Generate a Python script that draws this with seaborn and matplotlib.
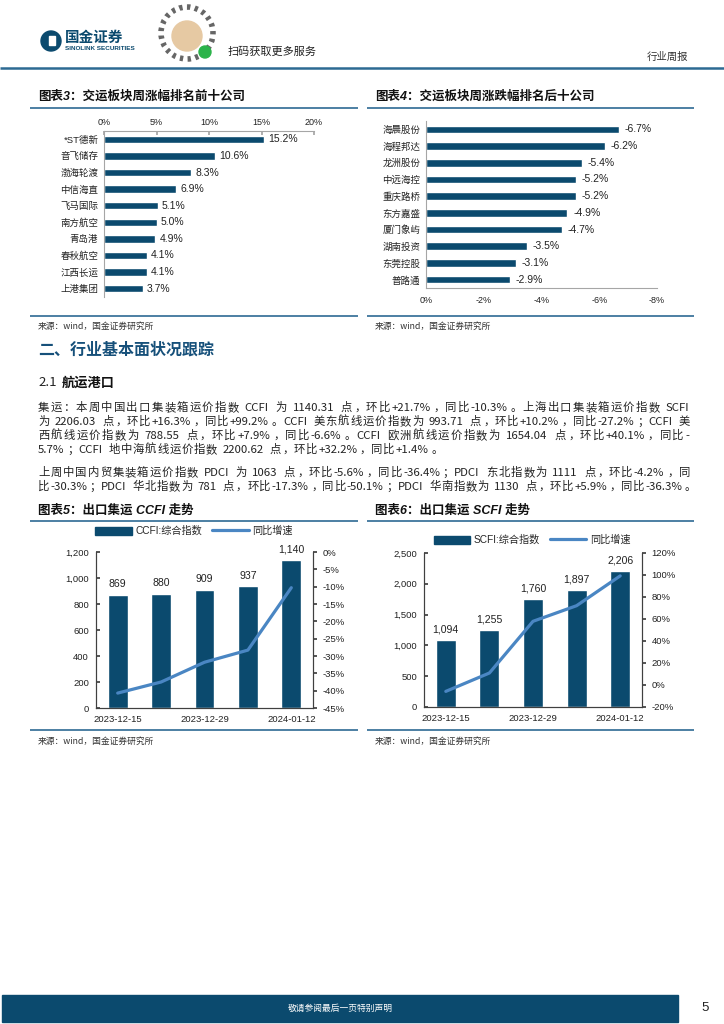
import re
import numpy as np
import pandas as pd
import matplotlib
matplotlib.use("Agg")
import matplotlib.pyplot as plt
import seaborn as sns
from matplotlib.lines import Line2D
from matplotlib.patches import Patch, Rectangle, Circle
from matplotlib.ticker import FuncFormatter

# ---------------- data ----------------
top_names = ["*ST德新", "音飞储存", "渤海轮渡", "中信海直", "飞马国际",
             "南方航空", "青岛港", "春秋航空", "江西长运", "上港集团"]
top_chg = [15.2, 10.6, 8.3, 6.9, 5.1, 5.0, 4.9, 4.1, 4.1, 3.7]

bot_names = ["海晨股份", "海程邦达", "龙洲股份", "中远海控", "重庆路桥",
             "东方嘉盛", "厦门象屿", "湖南投资", "东莞控股", "普路通"]
bot_chg = [-6.7, -6.2, -5.4, -5.2, -5.2, -4.9, -4.7, -3.5, -3.1, -2.9]

dates = ["2023-12-15", "2023-12-22", "2023-12-29", "2024-01-05", "2024-01-12"]
ccfi = [869, 880, 909, 937, 1140]
ccfi_yoy = [-40.7, -37.5, -31.8, -28.3, -10.3]
scfi = [1094, 1255, 1760, 1897, 2206]
scfi_yoy = [-5.8, 10.9, 57.9, 72.1, 99.2]

para1 = [
    "集运：本周中国出口集装箱运价指数 CCFI 为 1140.31 点，环比+21.7%，同比-10.3%。上海出口集装箱运价指数 SCFI",
    "为 2206.03 点，环比+16.3%，同比+99.2%。CCFI 美东航线运价指数为 993.71 点，环比+10.2%，同比-27.2%；CCFI 美",
    "西航线运价指数为 788.55 点，环比+7.9%，同比-6.6%。CCFI 欧洲航线运价指数为 1654.04 点，环比+40.1%，同比-",
    "5.7%；CCFI 地中海航线运价指数 2200.62 点，环比+32.2%，同比+1.4%。",
]
para2 = [
    "上周中国内贸集装箱运价指数 PDCI 为 1063 点，环比-5.6%，同比-36.4%；PDCI 东北指数为 1111 点，环比-4.2%，同",
    "比-30.3%；PDCI 华北指数为 781 点，环比-17.3%，同比-50.1%；PDCI 华南指数为 1130 点，环比+5.9%，同比-36.3%。",
]

# ---------------- style ----------------
sns.set_theme(style="white")
plt.rcParams['font.family'] = ['Liberation Sans', 'Noto Sans CJK SC']
plt.rcParams['axes.unicode_minus'] = False

BAR = '#0b4a6e'
LINE = '#4a86c3'
RULE = '#2d6a93'
HEAD = '#16507a'
GRAY = '#a6a6a6'
DARK = '#404040'
CJK = ['Noto Sans CJK SC', 'DejaVu Sans']

W, H = 724, 1024
fig = plt.figure(figsize=(7.24, 10.24), dpi=100)

bg = fig.add_axes([0, 0, 1, 1], zorder=-5)
bg.set_xlim(0, W)
bg.set_ylim(H, 0)
bg.axis('off')


def ax_at(x0, y0, x1, y1):
    return fig.add_axes([x0 / W, 1 - y1 / H, (x1 - x0) / W, (y1 - y0) / H])


def rule(x0, x1, y, color=RULE, lw=1.2):
    bg.plot([x0, x1], [y, y], color=color, lw=lw, solid_capstyle='butt')


# ---------------- header ----------------
bg.add_patch(Circle((51, 41), 10, color=BAR))
bg.add_patch(Rectangle((48.5, 36), 6, 9, color='white'))
bg.text(65, 37, "国金证券", fontsize=10.5, fontweight='bold', color=BAR, va='center', family=CJK)
bg.text(65, 48.5, "SINOLINK SECURITIES", fontsize=4.6, fontweight='bold', color=BAR, va='center')
bg.add_patch(Circle((187, 33), 26, fill=False, ec='#666666', lw=4, ls=(0, (0.6, 0.8))))
bg.add_patch(Circle((187, 36), 15, color='#e6c9a3'))
bg.add_patch(Circle((205, 52), 6, color='#2bb34a'))
bg.text(228, 52, "扫码获取更多服务", fontsize=8, color='#222222', va='center', family=CJK)
bg.text(688, 57, "行业周报", fontsize=7.5, color='#333333', va='center', ha='right', family=CJK)
rule(0, W, 68, RULE, 1.8)

# ---------------- chart 3 ----------------
bg.text(38, 97, "图表3：交运板块周涨幅排名前十公司", fontsize=9, fontweight='bold',
        style='italic', va='center', color='#111111')
rule(30, 358, 108)
ax3 = ax_at(104, 131, 314, 297)
df3 = pd.DataFrame({'name': top_names, 'chg': top_chg})
sns.barplot(data=df3, x='chg', y='name', orient='h', color=BAR, width=0.45,
            saturation=1, ax=ax3)
ax3.set_xlim(0, 20)
ax3.set_ylim(9.5, -0.5)
ax3.xaxis.tick_top()
ax3.set_xticks([0, 5, 10, 15, 20])
ax3.xaxis.set_major_formatter(FuncFormatter(lambda v, _: f"{v:.0f}%"))
ax3.tick_params(axis='x', direction='in', length=3, color=GRAY, labelsize=6.5, pad=3, labelcolor='#222222')
ax3.tick_params(axis='y', length=0, labelsize=6.8, pad=4, labelcolor='#222222')
for s in ['right', 'bottom']:
    ax3.spines[s].set_visible(False)
for s in ['top', 'left']:
    ax3.spines[s].set_color(GRAY)
    ax3.spines[s].set_linewidth(0.8)
ax3.set_xlabel('')
ax3.set_ylabel('')
for i, v in enumerate(top_chg):
    ax3.annotate(f"{v:.1f}%", (v, i), xytext=(3, 0), textcoords='offset points',
                 va='center', ha='left', fontsize=7.5, color='#222222')
rule(30, 358, 316)
bg.text(38, 326, "来源：wind，国金证券研究所", fontsize=6.3, color='#333333', va='center', family=CJK)

# ---------------- chart 4 ----------------
bg.text(375, 97, "图表4：交运板块周涨跌幅排名后十公司", fontsize=9, fontweight='bold',
        style='italic', va='center', color='#111111')
rule(367, 694, 108)
ax4 = ax_at(426, 121, 657, 288)
df4 = pd.DataFrame({'name': bot_names, 'chg': bot_chg})
sns.barplot(data=df4, x='chg', y='name', orient='h', color=BAR, width=0.45,
            saturation=1, ax=ax4)
ax4.set_xlim(0, -8)
ax4.set_ylim(9.5, -0.5)
ax4.set_xticks([0, -2, -4, -6, -8])
ax4.xaxis.set_major_formatter(FuncFormatter(lambda v, _: "0%" if abs(v) < 1e-9 else f"{v:.0f}%"))
ax4.tick_params(axis='x', direction='out', length=3, color=GRAY, labelsize=6.5, pad=3, labelcolor='#222222')
ax4.tick_params(axis='y', length=0, labelsize=6.8, pad=4, labelcolor='#222222')
for s in ['right', 'top']:
    ax4.spines[s].set_visible(False)
for s in ['bottom', 'left']:
    ax4.spines[s].set_color(GRAY)
    ax4.spines[s].set_linewidth(0.8)
ax4.set_xlabel('')
ax4.set_ylabel('')
for i, v in enumerate(bot_chg):
    ax4.annotate(f"{v:.1f}%", (v, i), xytext=(4, 0), textcoords='offset points',
                 va='center', ha='left', fontsize=7.5, color='#222222')
rule(367, 694, 316)
bg.text(375, 326, "来源：wind，国金证券研究所", fontsize=6.3, color='#333333', va='center', family=CJK)

# ---------------- section text ----------------
bg.text(38, 350, "二、行业基本面状况跟踪", fontsize=11.5, fontweight='bold', color=HEAD,
        va='center', family=CJK)
bg.text(38, 383, "2.1", fontsize=9.5, color='#222222', va='center', family=CJK)
bg.text(62, 383, "航运港口", fontsize=9.5, fontweight='bold', color='#111111', va='center', family=CJK)

renderer = fig.canvas.get_renderer()
BODY = 8.2
PUNCT = "，。；：、"


def measure(s, size):
    t = bg.text(0, 0, s, fontsize=size, family=CJK)
    w = t.get_window_extent(renderer).width
    t.remove()
    return w


def draw_line(x0, x1, y, s, size, justify):
    toks = re.findall(r'[!-~]+| +|[^ -~]', s)
    em = size * 100 / 72
    widths = []
    for t in toks:
        if t.isspace():
            widths.append(0.3 * em * len(t))
        elif re.match(r'[!-~]', t):
            widths.append(measure(t, size) + 0.08 * em)
        else:
            widths.append(em)
    natural = sum(widths)
    extra = (x1 - x0 - natural) / max(len(toks) - 1, 1) if justify else 0.8
    x = x0
    for t, w in zip(toks, widths):
        if not t.isspace():
            if t in PUNCT:
                bg.text(x + 0.08 * em, y, t, ha='left', va='baseline', fontsize=size,
                        family=CJK, color='#222222')
            elif re.match(r'[!-~]', t):
                bg.text(x, y, t, ha='left', va='baseline', fontsize=size,
                        family=CJK, color='#222222')
            else:
                bg.text(x + w / 2, y, t, ha='center', va='baseline', fontsize=size,
                        family=CJK, color='#222222')
        x += w + extra


p1_y = [411, 425, 439, 453]
for i, (ln, yy) in enumerate(zip(para1, p1_y)):
    draw_line(38, 690, yy, ln, BODY, i < len(para1) - 1)
p2_y = [476, 490]
for i, (ln, yy) in enumerate(zip(para2, p2_y)):
    draw_line(38, 690, yy, ln, BODY, i < len(para2) - 1)


# ---------------- combo charts ----------------
def combo(x0, y0, x1, y1, vals, yoy, ylim, ystep, rlim, rstep, label, leg_xy, title, tx):
    bg.text(tx, 511, title, fontsize=9, fontweight='bold', style='italic', va='center', color='#111111')
    ax = ax_at(x0, y0, x1, y1)
    df = pd.DataFrame({'date': dates, 'val': vals})
    sns.barplot(data=df, x='date', y='val', color=BAR, width=0.46, saturation=1, ax=ax)
    ax.set_xlim(-0.5, len(dates) - 0.5)
    ax.set_ylim(*ylim)
    ax.set_yticks(np.arange(ylim[0], ylim[1] + 1, ystep))
    ax.yaxis.set_major_formatter(FuncFormatter(lambda v, _: f"{v:,.0f}"))
    ax.set_xticks([0, 2, 4])
    ax.set_xticklabels([dates[0], dates[2], dates[4]])
    ax.set_xticks([0.5, 1.5, 2.5, 3.5, 4.5], minor=True)
    ax.tick_params(axis='x', which='major', length=0, labelsize=6.8, pad=5, labelcolor='#222222')
    ax.tick_params(axis='x', which='minor', length=3, direction='out', color=DARK)
    ax.tick_params(axis='y', length=3, direction='in', color=DARK, labelsize=6.8, pad=5,
                   labelcolor='#222222', left=True)
    ax.set_xlabel('')
    ax.set_ylabel('')
    for i, v in enumerate(vals):
        ax.annotate(f"{v:,}", (i, v), xytext=(0, 4), textcoords='offset points',
                    ha='center', va='bottom', fontsize=7.6, color='#222222')
    ax2 = ax.twinx()
    sns.lineplot(x=list(range(len(dates))), y=yoy, color=LINE, lw=2.3, ax=ax2)
    ax2.set_ylim(*rlim)
    ax2.set_yticks(np.arange(rlim[0], rlim[1] + 1, rstep))
    ax2.yaxis.set_major_formatter(FuncFormatter(lambda v, _: f"{v:.0f}%"))
    ax2.tick_params(axis='y', length=3, direction='out', color=DARK, labelsize=6.8, pad=4,
                    labelcolor='#222222', right=True)
    ax2.set_ylabel('')
    for a in (ax, ax2):
        a.spines['top'].set_visible(False)
        for s in ['left', 'right', 'bottom']:
            a.spines[s].set_color(DARK)
            a.spines[s].set_linewidth(0.8)
    handles = [Patch(color=BAR, label=label),
               Line2D([], [], color=LINE, lw=2.3, label='同比增速')]
    fig.legend(handles=handles, loc='center', bbox_to_anchor=(leg_xy[0] / W, 1 - leg_xy[1] / H),
               ncol=2, frameon=False, fontsize=7.3, handlelength=3.6, handleheight=0.8,
               columnspacing=1.0, handletextpad=0.35, borderaxespad=0)
    rule(tx - 8, tx + 320 if tx < 300 else 694, 521)
    rule(tx - 8, tx + 320 if tx < 300 else 694, 730)
    bg.text(tx, 741, "来源：wind，国金证券研究所", fontsize=6.3, color='#333333', va='center', family=CJK)


combo(96, 552, 313, 708, ccfi, ccfi_yoy, (0, 1200), 200, (-45, 0), 5,
      'CCFI:综合指数', (194, 531), "图表5：出口集运 CCFI 走势", 38)
combo(424, 553, 642, 707, scfi, scfi_yoy, (0, 2500), 500, (-20, 120), 20,
      'SCFI:综合指数', (532, 540), "图表6：出口集运 SCFI 走势", 375)

# ---------------- footer ----------------
bg.add_patch(Rectangle((2, 995), 676, 27, color=BAR))
bg.text(340, 1008.5, "敬请参阅最后一页特别声明", fontsize=6.3, color='white', ha='center', va='center', family=CJK)
bg.text(705, 1008, "5", fontsize=9.5, color='#222222', ha='center', va='center')

fig.savefig("out.png", dpi=100)
